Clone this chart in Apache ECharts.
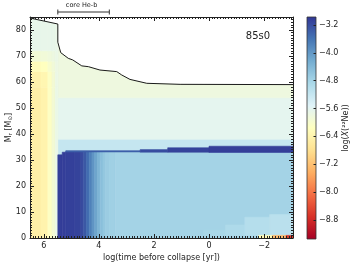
<!DOCTYPE html>
<html><head><meta charset="utf-8">
<script src="https://cdn.jsdelivr.net/npm/echarts@6/dist/echarts.min.js"></script>
<style>html,body{margin:0;padding:0;background:#fff}#c{width:356px;height:267px}</style>
</head><body><div id="c"></div>
<script>
// ---------- colour scale (RdYlBu, low -> high) ----------
const palette = ['#a50026','#d73027','#f46d43','#fdae61','#fee090','#ffffbf','#e0f3f8','#abd9e9','#74add1','#4575b4','#313695'];
const colorMin = -9.35, colorMax = -2.97;
const cbarTicks = [-8.8, -8.0, -7.2, -6.4, -5.6, -4.8, -4.0, -3.2];

// ---------- axes ----------
const tMin = -3.05, tMax = 6.5;
const mMin = 0, mMax = 85;
const xMajorTicks = [6, 4, 2, 0, -2];
const yMajorTicks = [0, 10, 20, 30, 40, 50, 60, 70, 80];
const xMinorStep = 0.1, yMinorStep = 1;

// ---------- surface (total mass) ----------
const surfaceTime = [6.5, 5.49, 5.49, 5.385, 5.11, 4.95, 4.62, 4.38, 3.96, 3.35, 3.17, 2.87, 2.26, 1.05, -3.05];
const surfaceMass = [84.6, 82.3, 75.3, 71.3, 69.1, 68.5, 66.2, 65.9, 64.6, 64.0, 62.7, 61.0, 59.5, 59.1, 59.0];

// ---------- main-sequence block ----------
const msTime = [6.5, 6.1, 5.85, 5.7, 5.58, 5.49];
const msMass = [0, 58, 64, 68, 72];          // last row reaches the surface
const msValues = [
  [-6.48, -6.40, -6.12, -5.92, -5.72],
  [-6.42, -6.35, -6.10, -5.92, -5.74],
  [-6.22, -6.16, -6.00, -5.88, -5.76],
  [-5.90, -5.88, -5.84, -5.78, -5.72],
  [-5.68, -5.68, -5.68, -5.68, -5.70]
];

// ---------- post-MS envelope ----------
const envTime = [5.49, -3.05];
const envMass = [38, 54];                    // last row reaches the surface
const envValues = [[-5.62], [-5.8]];

// ---------- intermediate band ----------
const bandTime = [5.49, -3.05];
const bandMass = [30, 38];
const bandValue = -5.2;

// ---------- core ----------
const coreTime = [5.49, 5.33, 5.2, 4.9, 4.65, 4.55, 4.45, 4.35, 4.25, 4.15, 4.05, 3.95, 3.85, 3.75, 3.6, 3.4, -3.05];
const coreTop = [32, 33, 33.3, 33.3, 33.3, 33.3, 33.3, 33.3, 33.3, 33.3, 33.3, 33.3, 33.3, 33.3, 33.3, 33.3];
const coreValues = [-3.05, -3.05, -3.07, -3.1, -3.18, -3.32, -3.52, -3.74, -3.96, -4.16, -4.35, -4.5, -4.62, -4.7, -4.76, -4.8];

// ---------- thin shell ----------
const shellTime = [5.2, 2.5, 1.5, 0, -3.05];
const shellBottom = [33.1, 33.0, 33.0, 32.9];
const shellTop = [33.6, 34.0, 34.7, 35.3];
const shellValues = [-3.4, -3.2, -3.1, -3.05];

// ---------- late central patches ----------
const patchTime = [0.2, -0.6, -1.3, -2.2, -3.05];
const patchBottom = 1.0;
const patchTop = [3, 5, 8, 9];
const patchValues = [-4.86, -4.92, -5.0, -5.06];

const burnTime = [-1.8, -2.3, -2.8, -3.05];
const burnTop = 1.0;
const burnValues = [-6.3, -7.3, -8.6];

// ---------- annotation ----------
const coreHeB = [5.49, 3.62];
const modelName = '85s0';

// ---------- build cells [t0, t1, m0, m1, value, followsSurface] ----------
const cells = [];
cells.push([bandTime[0], bandTime[1], bandMass[0], bandMass[1], bandValue, 0]);
for (let r = 0; r < envValues.length; r++) {
  for (let c = 0; c < envTime.length - 1; c++) {
    const top = r + 1 < envMass.length ? envMass[r + 1] : null;
    cells.push([envTime[c], envTime[c + 1], envMass[r], top === null ? 0 : top, envValues[r][c], top === null ? 1 : 0]);
  }
}
for (let r = 0; r < msValues.length; r++) {
  for (let c = 0; c < msTime.length - 1; c++) {
    const top = r + 1 < msMass.length ? msMass[r + 1] : null;
    cells.push([msTime[c], msTime[c + 1], msMass[r], top === null ? 0 : top, msValues[r][c], top === null ? 1 : 0]);
  }
}
for (let c = 0; c < coreValues.length; c++) cells.push([coreTime[c], coreTime[c + 1], 0, coreTop[c], coreValues[c], 0]);
for (let c = 0; c < shellValues.length; c++) cells.push([shellTime[c], shellTime[c + 1], shellBottom[c], shellTop[c], shellValues[c], 0]);
for (let c = 0; c < patchValues.length; c++) cells.push([patchTime[c], patchTime[c + 1], patchBottom, patchTop[c], patchValues[c], 0]);
for (let c = 0; c < burnValues.length; c++) cells.push([burnTime[c], burnTime[c + 1], 0, burnTop, burnValues[c], 0]);

function surfaceAt(t, side) {
  const idx = [];
  for (let i = 0; i < surfaceTime.length; i++) if (surfaceTime[i] === t) idx.push(i);
  if (idx.length) return surfaceMass[side === 'left' ? idx[0] : idx[idx.length - 1]];
  for (let i = 0; i < surfaceTime.length - 1; i++) {
    const a = surfaceTime[i], b = surfaceTime[i + 1];
    if (a > t && b < t) return surfaceMass[i] + (surfaceMass[i + 1] - surfaceMass[i]) * (a - t) / (a - b);
  }
  return surfaceMass[surfaceMass.length - 1];
}
// points along the surface from t1 (right, smaller) to t0 (left, larger)
function surfacePath(t0, t1) {
  const pts = [[t1, surfaceAt(t1, 'left')]];
  for (let i = surfaceTime.length - 1; i >= 0; i--) {
    const t = surfaceTime[i];
    if (t < t0 && t > t1) pts.push([t, surfaceMass[i]]);
  }
  pts.push([t0, surfaceAt(t0, 'right')]);
  return pts;
}

function minorValues(lo, hi, step) {
  const out = [];
  const start = Math.ceil(lo / step - 1e-9);
  const end = Math.floor(hi / step + 1e-9);
  for (let k = start; k <= end; k++) out.push(+(k * step).toFixed(4));
  return out;
}
const xMinorTicks = minorValues(tMin, tMax, xMinorStep);
const yMinorTicks = minorValues(mMin, mMax, yMinorStep);

const minusFmt = (v, d) => (v < 0 ? '\u2212' : '') + (d ? Math.abs(v).toFixed(d) : String(Math.abs(v)));
const FONT = 'DejaVu Sans';
const INK = '#222';

function xAx(extra) {
  return Object.assign({
    type: 'value', gridIndex: 0, min: tMin, max: tMax, inverse: true, z: 10,
    axisLine: { show: false, onZero: false }, splitLine: { show: false },
    axisLabel: { show: false }, axisTick: { show: false }
  }, extra);
}
function yAx(extra) {
  return Object.assign({
    type: 'value', gridIndex: 0, min: mMin, max: mMax, z: 10,
    axisLine: { show: false, onZero: false }, splitLine: { show: false },
    axisLabel: { show: false }, axisTick: { show: false }
  }, extra);
}
const tick = (vals, len) => ({ show: true, inside: true, length: len, customValues: vals, lineStyle: { color: INK, width: 1 } });

const chart = echarts.init(document.getElementById('c'), null, { renderer: 'canvas' });
chart.setOption({
  animation: false,
  textStyle: { fontFamily: FONT },
  grid: [
    { left: 30, top: 17, width: 263, height: 221, show: false, containLabel: false, outerBoundsMode: 'none' },
    { left: 307, top: 17, width: 9, height: 222, show: false, containLabel: false, outerBoundsMode: 'none' }
  ],
  visualMap: {
    type: 'continuous', show: false, seriesIndex: 0, dimension: 4,
    min: colorMin, max: colorMax, inRange: { color: palette }
  },
  xAxis: [
    xAx({ position: 'bottom', axisLine: { show: true, onZero: false, lineStyle: { color: INK, width: 1 } },
      axisTick: tick(xMajorTicks, 4),
      axisLabel: { show: true, customValues: xMajorTicks, fontSize: 8, color: INK, margin: 4, formatter: v => minusFmt(v) },
      name: 'log(time before collapse [yr])', nameLocation: 'middle', nameGap: 16, nameMoveOverlap: false,
      nameTextStyle: { fontSize: 8, color: INK } }),
    xAx({ position: 'bottom', axisTick: tick(xMinorTicks, 2) }),
    xAx({ position: 'top', axisLine: { show: true, onZero: false, lineStyle: { color: INK, width: 1 } }, axisTick: tick(xMajorTicks, 4) }),
    xAx({ position: 'top', axisTick: tick(xMinorTicks, 2) }),
    { type: 'value', gridIndex: 1, min: 0, max: 1, show: false }
  ],
  yAxis: [
    yAx({ position: 'left', axisLine: { show: true, onZero: false, lineStyle: { color: INK, width: 1 } },
      axisTick: tick(yMajorTicks, 4),
      axisLabel: { show: true, customValues: yMajorTicks, fontSize: 8, color: INK, margin: 4 },
      name: '{a|M}{s|r}{a| [M}{s|\u2299}{a|]}', nameLocation: 'middle', nameGap: 16, nameRotate: 90, nameMoveOverlap: false,
      nameTextStyle: { color: INK, rich: {
        a: { fontSize: 8, color: INK, lineHeight: 11, fontFamily: FONT },
        s: { fontSize: 5.5, color: INK, lineHeight: 6, verticalAlign: 'bottom', fontFamily: FONT }
      } } }),
    yAx({ position: 'left', axisTick: tick(yMinorTicks, 2) }),
    yAx({ position: 'right', axisLine: { show: true, onZero: false, lineStyle: { color: INK, width: 1 } }, axisTick: tick(yMajorTicks, 4) }),
    yAx({ position: 'right', axisTick: tick(yMinorTicks, 2) }),
    { type: 'value', gridIndex: 1, position: 'right', min: colorMin, max: colorMax, z: 10,
      axisLine: { show: false, onZero: false }, splitLine: { show: false },
      axisTick: { show: true, inside: true, length: 2.5, customValues: cbarTicks, lineStyle: { color: INK, width: 1 } },
      axisLabel: { show: true, customValues: cbarTicks, fontSize: 8, color: INK, margin: 3, formatter: v => minusFmt(v, 1) },
      name: '{a|log(}{i|X}{a|(\u00b2\u00b2Ne))}', nameLocation: 'middle', nameGap: 26, nameRotate: 90, nameMoveOverlap: false,
      nameTextStyle: { color: INK, rich: {
        a: { fontSize: 8, color: INK, fontFamily: FONT },
        i: { fontSize: 8, color: INK, fontStyle: 'italic', fontFamily: FONT }
      } } }
  ],
  series: [
    {
      type: 'custom', xAxisIndex: 0, yAxisIndex: 0, clip: true, z: 2,
      encode: { x: [0, 1], y: [2, 3] },
      data: cells,
      renderItem: function (params, api) {
        const t0 = api.value(0), t1 = api.value(1), m0 = api.value(2), m1 = api.value(3), follow = api.value(5);
        const fill = api.visual('color');
        let pts = [api.coord([t0, m0]), api.coord([t1, m0])];
        if (follow) {
          surfacePath(t0, t1).forEach(p => pts.push(api.coord(p)));
        } else {
          pts.push(api.coord([t1, m1]));
          pts.push(api.coord([t0, m1]));
        }
        return { type: 'polygon', shape: { points: pts }, style: { fill: fill, stroke: fill, lineWidth: 0.6 } };
      }
    },
    {
      type: 'line', xAxisIndex: 0, yAxisIndex: 0, z: 6, symbol: 'none',
      data: surfaceTime.map((t, i) => [t, surfaceMass[i]]),
      lineStyle: { color: '#1a1a1a', width: 1 }
    },
    {
      type: 'custom', xAxisIndex: 4, yAxisIndex: 4, clip: false, z: 2,
      data: [[0, 1, colorMin, colorMax]],
      renderItem: function (params, api) {
        const a = api.coord([api.value(0), api.value(2)]);
        const b = api.coord([api.value(1), api.value(3)]);
        const stops = palette.map((c, i) => ({ offset: i / (palette.length - 1), color: c }));
        return { type: 'rect', shape: { x: a[0], y: b[1], width: b[0] - a[0], height: a[1] - b[1] },
          style: { fill: new echarts.graphic.LinearGradient(0, 1, 0, 0, stops), stroke: '#333', lineWidth: 0.8 } };
      }
    },
    {
      type: 'custom', xAxisIndex: 0, yAxisIndex: 0, clip: false, z: 10,
      data: [coreHeB],
      renderItem: function (params, api) {
        const xa = api.coord([api.value(0), 0])[0];
        const xb = api.coord([api.value(1), 0])[0];
        const y = params.coordSys.y - 5;
        return { type: 'group', children: [
          { type: 'line', shape: { x1: xa, y1: y, x2: xb, y2: y }, style: { stroke: '#333', lineWidth: 1 } },
          { type: 'line', shape: { x1: xa, y1: y - 2.5, x2: xa, y2: y + 2.5 }, style: { stroke: '#333', lineWidth: 1 } },
          { type: 'line', shape: { x1: xb, y1: y - 2.5, x2: xb, y2: y + 2.5 }, style: { stroke: '#333', lineWidth: 1 } },
          { type: 'text', style: { x: (xa + xb) / 2 - 2, y: y - 6.5, text: 'core He-b', fontSize: 6.5, fontFamily: FONT, fill: INK, align: 'center', verticalAlign: 'middle' } }
        ] };
      }
    }
  ],
  graphic: [
    { type: 'text', x: 258, y: 36.5, style: { text: modelName, fontSize: 10, fontFamily: FONT, fill: INK, align: 'center', verticalAlign: 'middle' } }
  ]
});
</script>
</body></html>
